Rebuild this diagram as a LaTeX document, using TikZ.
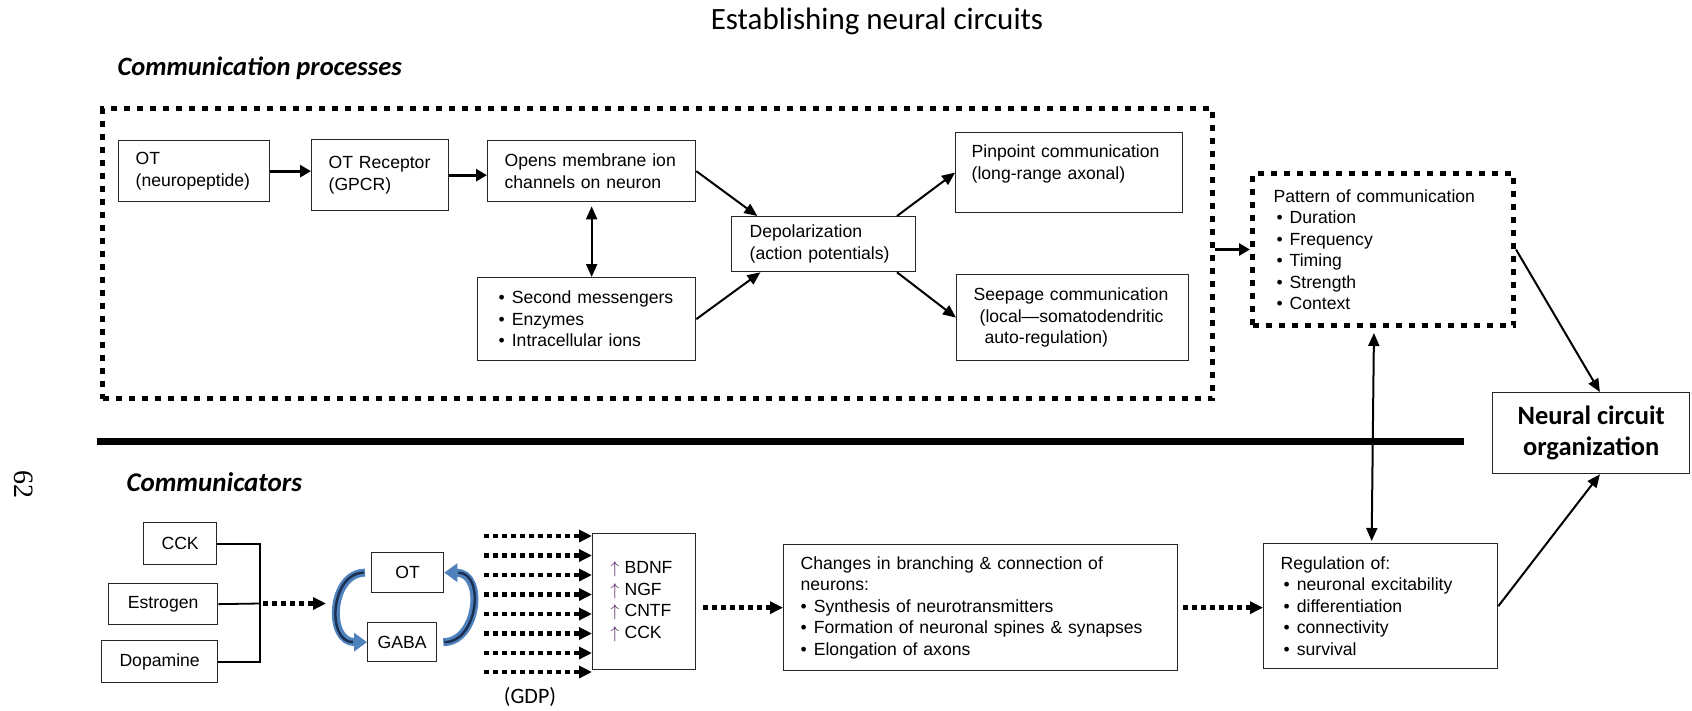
\documentclass[tikz,border=0pt]{standalone}
\usepackage{fontspec}
\setmainfont{Liberation Sans}
\newfontfamily\calibri{Carlito}
\newfontfamily\timesfont{Liberation Serif}
\usepackage{tikz}
\usetikzlibrary{arrows.meta}
\tikzset{font={\fontsize{17.6pt}{21.5pt}\selectfont}}
\usepackage{xcolor}
\definecolor{cycblue}{RGB}{79,129,189}
\definecolor{cycdark}{RGB}{28,48,84}
\definecolor{uppurple}{RGB}{80,24,96}
\newcommand{\bull}{\textbullet\hspace{.4em}}
\newcommand{\upar}{{\color{uppurple}$\uparrow$}\hspace{.3em}}

\begin{document}
\begin{tikzpicture}[x=1pt,y=-1pt,
procbox/.style={draw=black!85,line width=1.3,anchor=north west,align=left,inner ysep=0pt},
dotbox/.style={draw,line width=5,dash pattern=on 6 off 7,anchor=north west,inner sep=0pt},
arr/.style={line width=2,-{Triangle[length=13pt,width=11pt]}},
twoarr/.style={line width=2,{Triangle[length=13pt,width=11pt]}-{Triangle[length=13pt,width=11pt]}},
thickarr/.style={line width=3.2,-{Triangle[length=11pt,width=12pt]}},
dotarr/.style={line width=4.5,dash pattern=on 5 off 4,-{Triangle[length=13pt,width=12pt]}},
cycarr/.style={line width=8,cycblue,-{Triangle[length=13pt,width=18pt]}}
]
\useasboundingbox (0,0) rectangle (1692,710);

\node[anchor=base,font={\calibri\fontsize{31pt}{36pt}\selectfont}] (title) at (877,29) {Establishing neural circuits};
\node[anchor=base west,font={\calibri\bfseries\itshape\fontsize{26.5pt}{30pt}\selectfont}] (cp) at (114,75) {Communication processes};
\node[anchor=base west,font={\calibri\bfseries\itshape\fontsize{27pt}{30pt}\selectfont}] (comm) at (123,491) {Communicators};
\node[rotate=-90,font={\timesfont\fontsize{28pt}{32pt}\selectfont}] (pg) at (24,484) {62};

%communication processes
\node[dotbox,minimum width=1110,minimum height=290] (outer) at (100,106) {};
\node[procbox,text width=117,inner xsep=17,minimum height=61] (ot) at (118,140) {OT\\(neuropeptide)};
\node[procbox,text width=103,inner xsep=17,minimum height=71] (rec) at (311,139) {OT Receptor\\(GPCR)};
\node[procbox,text width=174,inner xsep=17,minimum height=61] (opens) at (487,140) {Opens membrane ion\\channels on neuron};
\node[procbox,text width=176,inner xsep=21,minimum height=83] (msg) at (477,277) {\bull Second messengers\\\bull Enzymes\\\bull Intracellular ions};
\node[procbox,text width=148,inner xsep=18,minimum height=55] (depol) at (731,216) {Depolarization\\(action potentials)};
\node[procbox,text width=195,inner xsep=16,minimum height=80] (pin) at (955,132) {Pinpoint communication\\(long-range axonal)\\\mbox{}};
\node[procbox,text width=198,inner xsep=17,minimum height=86] (seep) at (956,274) {Seepage communication\\\hspace*{6pt}(local—somatodendritic\\\hspace*{11pt}auto-regulation)};

\draw[thickarr] (ot.east) -- (ot.east -| rec.west);
\draw[thickarr] (rec.east) -- (rec.east -| opens.west);
\draw[twoarr,shorten <=4pt] (opens.south) -- (opens.south |- msg.north);
\draw[arr] (opens.east) -- (depol.157);
\draw[arr] (msg.east) -- (depol.204);
\draw[arr] (depol.21) -- (pin.west);
\draw[arr] (depol.-21) -- (seep.west);

%pattern and outcome
\node[dotbox,text width=219,inner xsep=21,align=left,minimum height=152] (pattern) at (1250,171) {Pattern of communication\\\hspace*{3pt}\bull Duration\\\hspace*{3pt}\bull Frequency\\\hspace*{3pt}\bull Timing\\\hspace*{3pt}\bull Strength\\\hspace*{3pt}\bull Context};
\node[procbox,align=center,minimum width=197,minimum height=81,font={\calibri\bfseries\fontsize{26.5pt}{31pt}\selectfont}] (neural) at (1492,392) {Neural circuit\\organization};

\draw[thickarr] (outer.east |- pattern.west) -- (pattern.west);
\draw[arr] (pattern.east) -- (neural.78);

\draw[line width=7] (97,441) -- (1464,441);

%communicators
\node[procbox,minimum width=73,minimum height=42] (cck) at (143,522) {CCK};
\node[procbox,minimum width=109,minimum height=41] (estr) at (108,583) {Estrogen};
\node[procbox,minimum width=116,minimum height=42] (dopa) at (101,640) {Dopamine};
\node[procbox,minimum width=72,minimum height=40] (ot2) at (371,552) {OT};
\node[procbox,minimum width=69,minimum height=39] (gaba) at (367,622) {GABA};
\node[procbox,text width=67,inner xsep=18,minimum height=136] (bdnf) at (592,533) {\upar BDNF\\\upar NGF\\\upar CNTF\\\upar CCK};
\node[procbox,text width=360,inner xsep=17,minimum height=126] (changes) at (783,544) {Changes in branching \& connection of\\neurons:\\\bull Synthesis of neurotransmitters\\\bull Formation of neuronal spines \& synapses\\\bull Elongation of axons};
\node[procbox,text width=200,inner xsep=17,minimum height=125] (reg) at (1263,543) {Regulation of:\\\hspace*{3pt}\bull neuronal excitability\\\hspace*{3pt}\bull differentiation\\\hspace*{3pt}\bull connectivity\\\hspace*{3pt}\bull survival};
\node[anchor=base,font={\calibri\fontsize{22pt}{26pt}\selectfont}] (gdp) at (530,703) {(GDP)};

\coordinate (brk) at (260,603.5);
\coordinate (cyc) at (326,603.5);
\draw[line width=1.8] (cck.east) -| (brk) |- (dopa.east);
\draw[line width=1.8] (estr.east) -- (brk);
\draw[dotarr,shorten <=3pt] (brk) -- (cyc);

\draw[cycarr,shorten <=6pt] (ot2.west) to[out=180,in=180,looseness=1.5] (gaba.west);
\draw[cycarr,shorten <=6pt] (gaba.east) to[out=0,in=0,looseness=1.5] (ot2.east);
\draw[line width=2.5,cycdark,shorten <=7pt,shorten >=14pt] (ot2.west) to[out=180,in=180,looseness=1.5] (gaba.west);
\draw[line width=2.5,cycdark,shorten <=7pt,shorten >=14pt] (gaba.east) to[out=0,in=0,looseness=1.5] (ot2.east);

\foreach \i/\y in {1/536,2/555.5,3/575,4/594.5,5/614,6/633.5,7/653,8/672}{\coordinate (g\i) at (484,\y); \draw[dotarr] (g\i) -- (g\i -| bdnf.west);}

\draw[dotarr,shorten <=7pt] (changes.west -| bdnf.east) -- (changes.west);
\draw[dotarr,shorten <=5pt] (changes.east) -- (changes.east -| reg.west);

\draw[twoarr,shorten <=5pt,shorten >=2pt] ([xshift=-9pt]pattern.south) -- ([xshift=-9pt]reg.north);
\draw[arr] (reg.east) -- (neural.-78);

\end{tikzpicture}
\end{document}
